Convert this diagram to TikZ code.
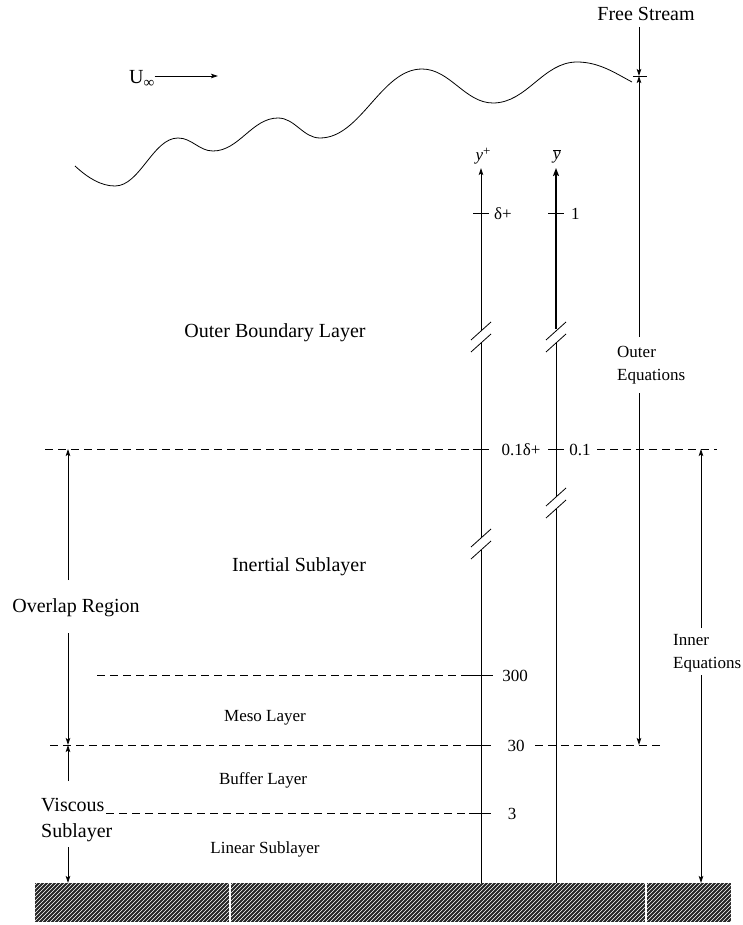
\documentclass[tikz,border=0pt]{standalone}
\usepackage{fontspec}
\setmainfont{Liberation Serif}
\usetikzlibrary{arrows.meta}
\begin{document}
\begin{tikzpicture}[x=1pt,y=-1pt,
  bigtxt/.style={font=\fontsize{20}{24}\selectfont, inner sep=0pt},
  smalltxt/.style={font=\fontsize{17}{23}\selectfont, inner sep=0pt},
  dashln/.style={line width=0.8pt, dash pattern=on 8pt off 5pt},
  thinln/.style={line width=0.8pt},
  arr/.style={thinln, -{Stealth[length=7pt,width=4.5pt,inset=1.5pt]}},
  thickarr/.style={line width=2.2pt, -{Stealth[length=8pt,width=6pt,inset=1.5pt]}},
  brk/.style={line width=0.8pt}]
\useasboundingbox (0,0) rectangle (742,925);

% ---------- wave ----------
\draw[line width=0.8pt] (75,166)
  .. controls (88,178) and (101,186) .. (115,186)
  .. controls (140,186) and (153,138) .. (178,138)
  .. controls (192,138) and (199,151) .. (213,151)
  .. controls (239,151) and (252,118) .. (278,118)
  .. controls (295,118) and (303,138) .. (320,138)
  .. controls (361,138) and (381,69) .. (422,69)
  .. controls (450,69) and (465,103) .. (493,103)
  .. controls (527,103) and (543,62) .. (577,62)
  .. controls (599,62) and (615,73) .. (632,82);

% ---------- U infinity ----------
\node[bigtxt, anchor=west] (uinf) at (129,79) {U\raisebox{-0.45ex}{\fontsize{15}{15}\selectfont ∞}};
\coordinate (uend) at (218,76);
\draw[arr] (uinf.east |- uend) -- (uend);

% ---------- Free stream ----------
\node[bigtxt] (fs) at (646,14) {Free Stream};
\coordinate (fstop) at (639,27);
\coordinate (fstick) at (639,76);
\draw[arr] (fstop) -- (fstick);
\draw[thinln] (633,76) -- (647,76);

% ---------- axes coordinates ----------
\coordinate (ypbot) at (481,883);
\coordinate (yptop) at (481,168);
\coordinate (ybbot) at (556,883);
\coordinate (ybtop) at (556,168);

% y+ axis with breaks at 337 and 544
\draw[thinln] (ypbot) -- (481,550);
\draw[thinln] (481,538) -- (481,343);
\draw[arr] (481,331) -- (yptop);
\foreach \yc in {337,544}{
  \draw[brk] (471,\yc+3) -- (491,\yc-15);
  \draw[brk] (471,\yc+15) -- (491,\yc-3);
}
\node[smalltxt] (yplab) at (483,156) {\textit{y}\raisebox{0.6ex}{\fontsize{13}{13}\selectfont +}};

% y-bar axis with breaks at 337 and 503
\draw[thinln] (ybbot) -- (556,509);
\draw[thinln] (556,497) -- (556,343);
\draw[thickarr] (556,329) -- (ybtop);
\foreach \yc in {337,503}{
  \draw[brk] (546,\yc+3) -- (566,\yc-15);
  \draw[brk] (546,\yc+15) -- (566,\yc-3);
}
\node[smalltxt] (yblab) at (557,156) {$\overline{\textit{y}}$};

% ticks at delta+ / 1
\draw[thinln] (473,213) -- (489,213);
\node[smalltxt, anchor=west] (dplus) at (494,214) {δ+};
\draw[thinln] (548,213) -- (564,213);
\node[smalltxt, anchor=west] (one) at (571,214) {1};

% ---------- 0.1 line ----------
\draw[dashln] (45,449) -- (481,449);
\draw[thinln] (473,449) -- (489,449);
\node[smalltxt] (p1dp) at (521,450) {0.1δ+};
\draw[thinln] (548,449) -- (564,449);
\node[smalltxt] (p1) at (580,450) {0.1};
\draw[dashln] (597,449) -- (717,449);

% ---------- 300 line ----------
\draw[dashln] (97,675) -- (481,675);
\draw[thinln] (465,675) -- (493,675);
\node[smalltxt] (n300) at (515,676) {300};

% ---------- 30 line ----------
\draw[dashln] (50,745) -- (481,745);
\draw[thinln] (469,745) -- (491,745);
\node[smalltxt] (n30) at (516,746) {30};
\draw[dashln] (535,745) -- (662,745);

% ---------- 3 line ----------
\draw[dashln] (106,813) -- (481,813);
\draw[thinln] (469,813) -- (491,813);
\node[smalltxt] (n3) at (512,814) {3};

% ---------- region labels ----------
\node[bigtxt] (obl) at (275,333) {Outer Boundary Layer};
\node[bigtxt] (inert) at (299,567) {Inertial Sublayer};
\node[bigtxt] (overlap) at (76,608) {Overlap Region};
\node[smalltxt] (meso) at (265,718) {Meso Layer};
\node[smalltxt] (buffer) at (263,780) {Buffer Layer};
\node[smalltxt] (linear) at (265,849) {Linear Sublayer};
\node[bigtxt, align=left, anchor=west, font=\fontsize{20}{26}\selectfont] (visc) at (41,820) {Viscous\\Sublayer};
\node[smalltxt, align=left, anchor=west] (outeq) at (617,365) {Outer\\Equations};
\node[smalltxt, align=left, anchor=west] (inneq) at (673,653) {Inner\\Equations};

% ---------- overlap / viscous arrows ----------
\coordinate (ovtop) at (68,449);
\coordinate (ovbot) at (68,745);
\coordinate (vsbot) at (68,883);
\draw[arr] (68,580) -- (ovtop);
\draw[arr] (68,633) -- (ovbot);
\draw[arr] (68,781) -- (ovbot);
\draw[arr] (68,847) -- (vsbot);

% ---------- outer equations ----------
\coordinate (oebot) at (639,745);
\draw[arr] (639,337) -- (fstick);
\draw[arr] (639,393) -- (oebot);

% ---------- inner equations ----------
\coordinate (ietop) at (701,449);
\coordinate (iebot) at (701,883);
\draw[arr] (701,628) -- (ietop);
\draw[arr] (701,675) -- (iebot);

% ---------- ground ----------
\fill[black!85] (35,883) rectangle (731,922);
\begin{scope}
  \clip (35,883) rectangle (731,922);
  \foreach \i in {-10,-6,...,740}{
    \draw[white, line width=0.5pt] (\i,922) -- ++(42,-42);
  }
\end{scope}
\draw[white, line width=1.2pt] (230,883) -- (230,922);
\draw[white, line width=1.2pt] (646,883) -- (646,922);
\end{tikzpicture}
\end{document}
